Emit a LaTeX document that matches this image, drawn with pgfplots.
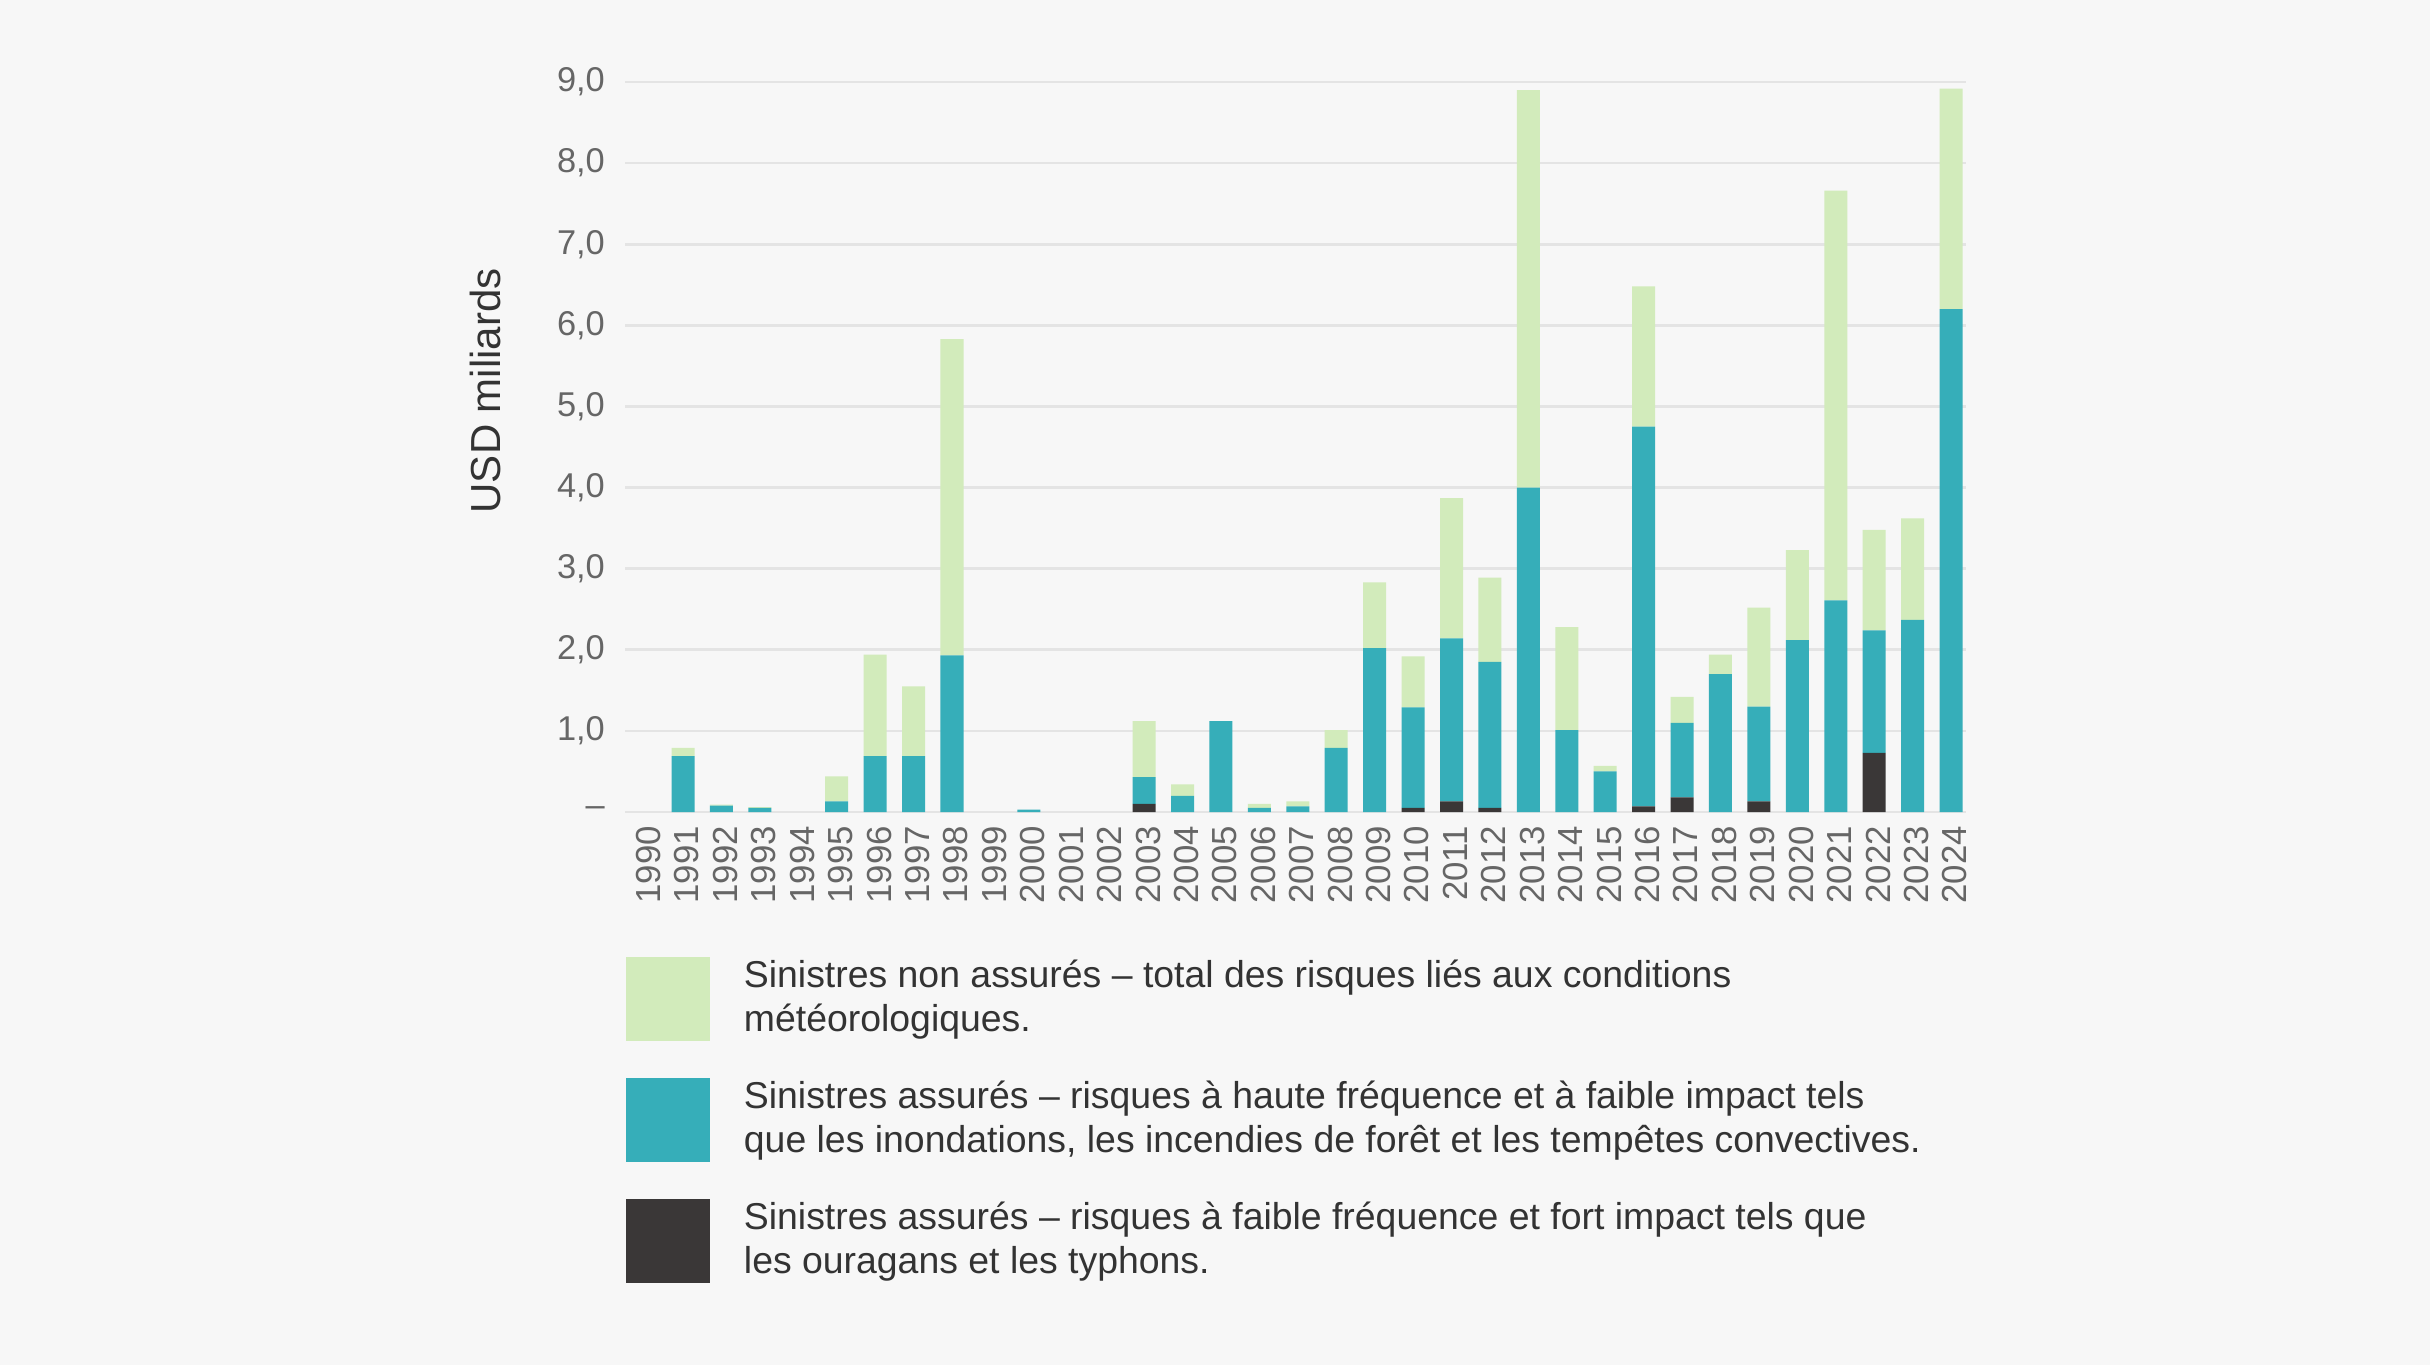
\documentclass[border=0pt]{standalone}
\usepackage{fontspec}
\setmainfont{Liberation Sans}
\usepackage{pgfplots}
\pgfplotsset{compat=1.18}
\usepackage{pgfplotstable}
\definecolor{bg}{HTML}{F7F7F7}
\definecolor{cgreen}{HTML}{D2EBBB}
\definecolor{cteal}{HTML}{36AEB9}
\definecolor{cdark}{HTML}{3A3737}
\definecolor{ticktxt}{HTML}{666666}
\definecolor{txt}{HTML}{333333}
\definecolor{gridc}{HTML}{E4E4E4}

\pgfplotstableread{
year dark teal green
1990 0    0    0
1991 0    0.69 0.10
1992 0    0.08 0.01
1993 0    0.05 0.01
1994 0    0    0
1995 0    0.13 0.31
1996 0    0.69 1.25
1997 0    0.69 0.86
1998 0    1.93 3.90
1999 0    0    0
2000 0    0.03 0
2001 0    0    0
2002 0    0    0
2003 0.10 0.33 0.69
2004 0    0.20 0.14
2005 0    1.12 0
2006 0    0.05 0.05
2007 0    0.07 0.06
2008 0    0.79 0.22
2009 0    2.02 0.81
2010 0.05 1.24 0.63
2011 0.13 2.01 1.73
2012 0.05 1.80 1.04
2013 0    4.00 4.90
2014 0    1.01 1.27
2015 0    0.50 0.07
2016 0.07 4.68 1.73
2017 0.18 0.92 0.32
2018 0    1.70 0.24
2019 0.13 1.17 1.22
2020 0    2.12 1.11
2021 0    2.61 5.05
2022 0.73 1.51 1.24
2023 0    2.37 1.25
2024 0    6.20 2.72
}\data

\pgfplotsset{sq legend/.style={legend image code/.code={\fill[##1] (0pt,-10.5pt) rectangle (21pt,10.5pt); \path (29.5pt,0pt);}}}

\begin{document}
\begin{tikzpicture}
\path[use as bounding box, fill=bg] (0,0) rectangle (607.5pt,341.25pt);
\begin{axis}[
  at={(156.25pt,138.25pt)}, anchor=south west,
  scale only axis, width=335.25pt, height=182.5pt,
  ybar stacked, bar width=5.75pt,
  xmin=1989.49, xmax=2024.39, ymin=0, ymax=9,
  axis line style={draw=none},
  major tick length=0pt,
  ymajorgrids, grid style={gridc, line width=0.65pt},
  ytick={0,...,9},
  yticklabels={{–},{1,0},{2,0},{3,0},{4,0},{5,0},{6,0},{7,0},{8,0},{9,0}},
  yticklabel style={font=\fontsize{8.6}{10}\selectfont, text=ticktxt, xshift=-1.5pt},
  xtick={1990,...,2024},
  /pgf/number format/assume math mode=true,
  xticklabel style={/pgf/number format/1000 sep=, font=\fontsize{8.7}{10}\selectfont, text=ticktxt, rotate=90, anchor=east, yshift=-1pt},
  ylabel={USD miliards},
  ylabel style={at={(rel axis cs:-0.1044,0.577)}, anchor=center, rotate=0, font=\fontsize{10.5}{12}\selectfont, text=txt},
  axis background/.style={fill=bg},
  reverse legend,
  legend style={at={(0.0007,-0.198)}, anchor=north west, draw=none, fill=none,
    inner sep=0pt, outer sep=0pt, row sep=9.3pt, column sep=0pt,
    nodes={inner sep=0pt, align=left, text=txt, font=\fontsize{9.35}{11.1}\selectfont}},
  legend cell align=left,
]
\addplot[fill=cdark, draw=none, sq legend] table[x=year, y=dark] {\data};
\addlegendentry{Sinistres assurés – risques à faible fréquence et fort impact tels que\\les ouragans et les typhons.}
\addplot[fill=cteal, draw=none, sq legend] table[x=year, y=teal] {\data};
\addlegendentry{Sinistres assurés – risques à haute fréquence et à faible impact tels\\que les inondations, les incendies de forêt et les tempêtes convectives.}
\addplot[fill=cgreen, draw=none, sq legend] table[x=year, y=green] {\data};
\addlegendentry{Sinistres non assurés – total des risques liés aux conditions\\météorologiques.}
\end{axis}
\end{tikzpicture}
\end{document}
